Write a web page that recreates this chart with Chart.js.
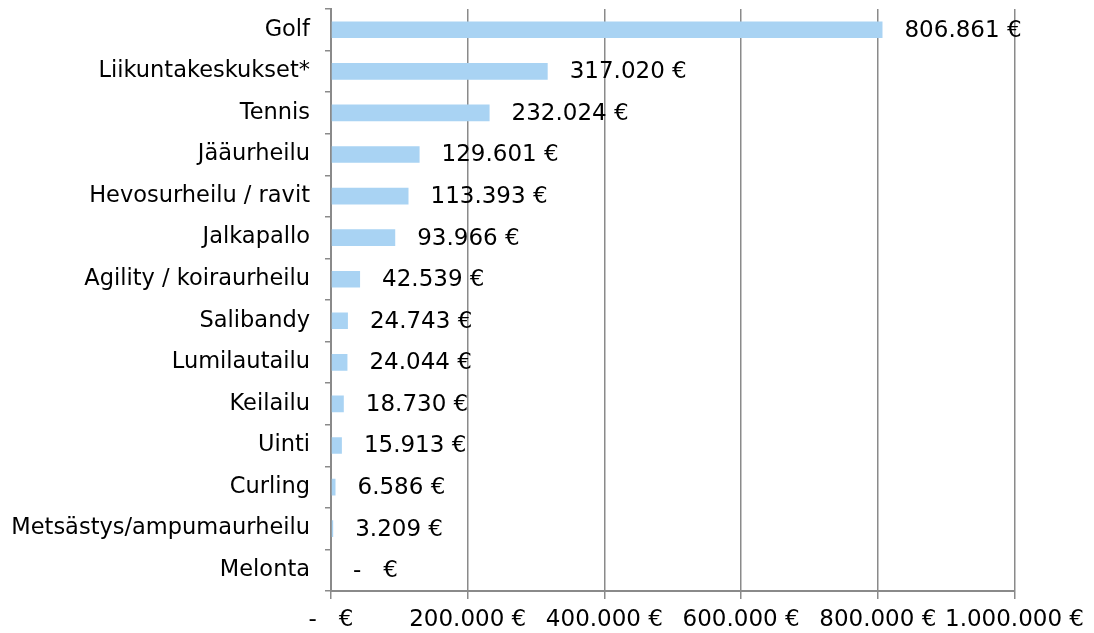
<!DOCTYPE html>
<html>
<head>
<meta charset="utf-8">
<script src="https://cdn.jsdelivr.net/npm/chart.js@4"></script>
<style>
  body { margin: 0; background: #fff; }
  #wrap { width: 1094px; height: 633px; }
</style>
</head>
<body>
<div id="wrap"><canvas id="chart" width="1094" height="633"></canvas></div>
<script>
// sport categories and amounts (euros)
var categories = [
    'Golf', 'Liikuntakeskukset*', 'Tennis', 'Jääurheilu', 'Hevosurheilu / ravit',
    'Jalkapallo', 'Agility / koiraurheilu', 'Salibandy', 'Lumilautailu', 'Keilailu',
    'Uinti', 'Curling', 'Metsästys/ampumaurheilu', 'Melonta'
];
var amounts = [806861, 317020, 232024, 129601, 113393, 93966, 42539,
               24743, 24044, 18730, 15913, 6586, 3209, 0];
var xTicks = [0, 200000, 400000, 600000, 800000, 1000000];

var FONT = '"DejaVu Sans", Verdana, sans-serif';

function euro(n) {
    if (n === 0) return '-   €';
    return String(n).replace(/\B(?=(\d{3})+(?!\d))/g, '.') + ' €';
}

// value labels to the right of each bar
var valueLabels = {
    id: 'valueLabels',
    afterDatasetsDraw: function (chart) {
        var ctx = chart.ctx;
        var meta = chart.getDatasetMeta(0);
        ctx.save();
        ctx.font = '23px ' + FONT;
        ctx.fillStyle = '#000';
        ctx.textAlign = 'left';
        ctx.textBaseline = 'middle';
        meta.data.forEach(function (bar, i) {
            ctx.fillText(euro(amounts[i]), bar.x + 22, bar.y + 1);
        });
        ctx.restore();
    }
};

new Chart(document.getElementById('chart'), {
    type: 'bar',
    data: {
        labels: categories,
        datasets: [{
            data: amounts,
            backgroundColor: '#a9d3f3',
            barPercentage: 0.4,
            categoryPercentage: 1.0
        }]
    },
    options: {
        indexAxis: 'y',
        responsive: false,
        animation: false,
        layout: { padding: { top: 9, right: 78, bottom: 0, left: 0 } },
        plugins: { legend: { display: false }, tooltip: { enabled: false } },
        scales: {
            x: {
                min: 0, max: 1000000,
                afterBuildTicks: function (scale) {
                    scale.ticks = xTicks.map(function (v) { return { value: v }; });
                },
                afterFit: function (scale) { scale.height = 42; },
                ticks: {
                    callback: function (v) { return euro(v); },
                    color: '#000',
                    font: { family: FONT, size: 23, lineHeight: 1 },
                    padding: 10,
                    maxRotation: 0,
                    autoSkip: false
                },
                grid: { color: '#8a8a8a', lineWidth: 1.5, tickLength: 8 },
                border: { color: '#8a8a8a', width: 2 }
            },
            y: {
                afterFit: function (scale) {
                    scale.width = 331;
                    scale.paddingTop = 0;
                    scale.paddingBottom = 0;
                },
                ticks: {
                    color: '#000',
                    font: { family: FONT, size: 22.5 },
                    padding: 15
                },
                grid: { offset: true, drawOnChartArea: false, color: '#8a8a8a', lineWidth: 1.5, tickLength: 6 },
                border: { color: '#8a8a8a', width: 2 }
            }
        }
    },
    plugins: [valueLabels]
});
</script>
</body>
</html>
